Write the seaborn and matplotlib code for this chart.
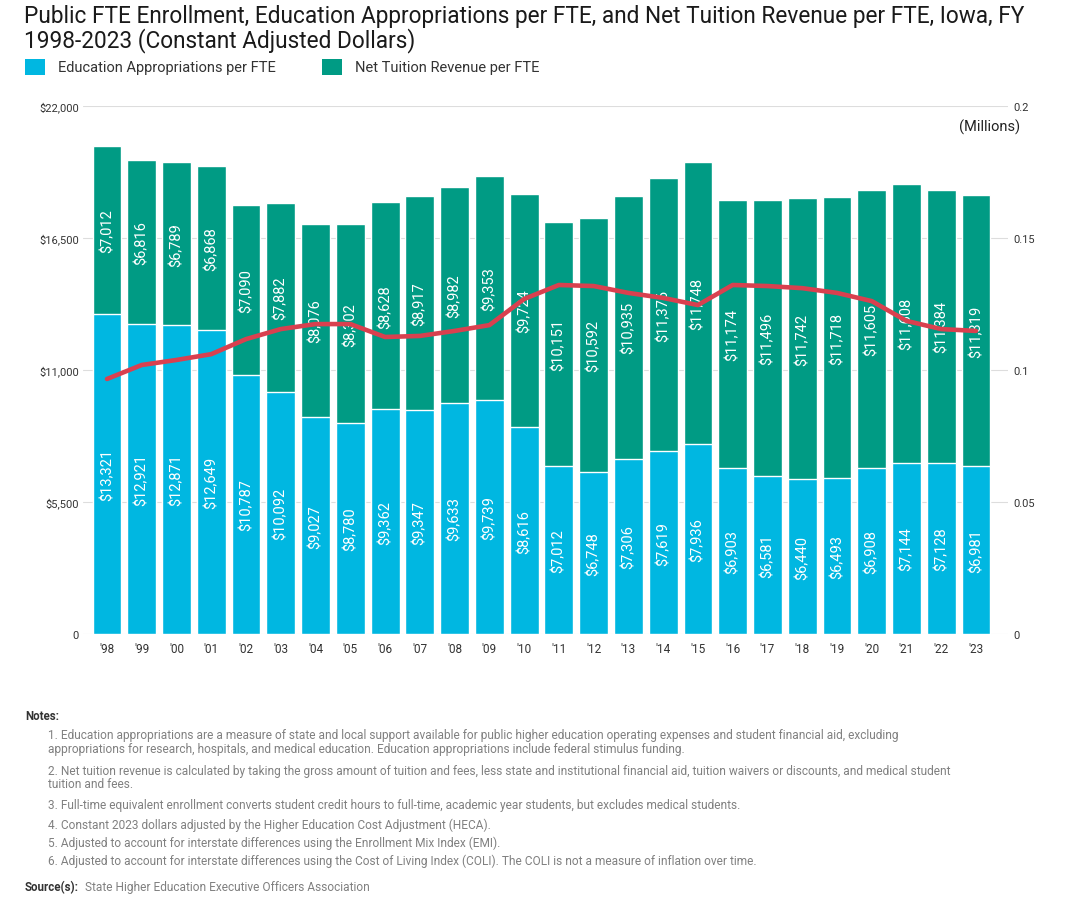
import matplotlib
matplotlib.use("Agg")
import matplotlib.pyplot as plt
import pandas as pd
import seaborn as sns
from matplotlib.patches import Rectangle

years = ["'98", "'99", "'00", "'01", "'02", "'03", "'04", "'05", "'06", "'07", "'08", "'09", "'10",
         "'11", "'12", "'13", "'14", "'15", "'16", "'17", "'18", "'19", "'20", "'21", "'22", "'23"]
approp = [13321, 12921, 12871, 12649, 10787, 10092, 9027, 8780, 9362, 9347, 9633, 9739, 8616,
          7012, 6748, 7306, 7619, 7936, 6903, 6581, 6440, 6493, 6908, 7144, 7128, 6981]
tuition = [7012, 6816, 6789, 6868, 7090, 7882, 8076, 8302, 8628, 8917, 8982, 9353, 9724,
           10151, 10592, 10935, 11376, 11748, 11174, 11496, 11742, 11718, 11605, 11608, 11384, 11319]
fte_millions = [0.0966, 0.1019, 0.1038, 0.1060, 0.1117, 0.1155, 0.1174, 0.1174, 0.1125, 0.1129,
                0.1148, 0.1170, 0.1269, 0.1322, 0.1318, 0.1292, 0.1273, 0.1246, 0.1322, 0.1318,
                0.1310, 0.1292, 0.1261, 0.1186, 0.1155, 0.1148]

left_ticks = [0, 5500, 11000, 16500, 22000]
left_labels = ["0", "$5,500", "$11,000", "$16,500", "$22,000"]
right_ticks = [0, 0.05, 0.1, 0.15, 0.2]
right_labels = ["0", "0.05", "0.1", "0.15", "0.2"]

notes = [
    "1. Education appropriations are a measure of state and local support available for public higher education operating expenses and student financial aid, excluding",
    "appropriations for research, hospitals, and medical education. Education appropriations include federal stimulus funding.",
    "2. Net tuition revenue is calculated by taking the gross amount of tuition and fees, less state and institutional financial aid, tuition waivers or discounts, and medical student",
    "tuition and fees.",
    "3. Full-time equivalent enrollment converts student credit hours to full-time, academic year students, but excludes medical students.",
    "4. Constant 2023 dollars adjusted by the Higher Education Cost Adjustment (HECA).",
    "5. Adjusted to account for interstate differences using the Enrollment Mix Index (EMI).",
    "6. Adjusted to account for interstate differences using the Cost of Living Index (COLI). The COLI is not a measure of inflation over time.",
]
note_y = [736, 750, 771, 785, 806, 825, 843, 861]

CYAN = "#00B7E1"
TEAL = "#009B84"
RED = "#D9404F"

df = pd.DataFrame({
    "Year": years,
    "Approp": approp,
    "Tuition": tuition,
    "FTE": fte_millions,
})
df["Total"] = df["Approp"] + df["Tuition"]
df["Pos"] = range(len(df))

sns.set_style("white")
plt.rcParams["font.family"] = ["Roboto", "DejaVu Sans"]

W, H = 1077, 912
fig = plt.figure(figsize=(W / 100, H / 100), dpi=100)
ax = fig.add_axes([83 / W, 1 - 635 / H, (1008 - 83) / W, (635 - 107) / H])

# stacked bars: total first (teal), appropriations on top of it (cyan)
sns.barplot(data=df, x="Year", y="Total", color=TEAL, width=0.83, saturation=1, ax=ax, zorder=2)
sns.barplot(data=df, x="Year", y="Approp", color=CYAN, width=0.83, saturation=1, ax=ax, zorder=3)

for i, row in df.iterrows():
    ax.text(i, row["Approp"] / 2, f"${row['Approp']:,}", rotation=90, ha="center", va="center",
            color="white", fontsize=10.5, zorder=4)
    ax.text(i, row["Approp"] + row["Tuition"] / 2, f"${row['Tuition']:,}", rotation=90,
            ha="center", va="center", color="white", fontsize=10.5, zorder=4)

ax.set_xlim(-0.69, 25.92)
ax.set_ylim(0, 22000)
ax.set_yticks(left_ticks)
ax.set_yticklabels(left_labels)
ax.set_xlabel("")
ax.set_ylabel("")
ax.grid(axis="y", color="#dddddd", linewidth=0.8, zorder=0)
ax.set_axisbelow(True)
for s in ax.spines.values():
    s.set_visible(False)
ax.tick_params(axis="y", length=0, pad=3, labelsize=8, labelcolor="#333333")
ax.tick_params(axis="x", length=0, pad=6, labelsize=8.5, labelcolor="#333333")

ax2 = ax.twinx()
sns.lineplot(data=df, x="Pos", y="FTE", color=RED, linewidth=3.3, ax=ax2,
             solid_joinstyle="round", solid_capstyle="round")
ax2.set_ylim(0, 0.2)
ax2.set_yticks(right_ticks)
ax2.set_yticklabels(right_labels)
ax2.set_ylabel("")
ax2.set_xlabel("")
for s in ax2.spines.values():
    s.set_visible(False)
ax2.tick_params(axis="y", length=0, pad=4, labelsize=8, labelcolor="#333333")
ax.set_xlim(-0.69, 25.92)
ax2.text(0.98, 0.962, "(Millions)", transform=ax.transAxes, ha="center", va="center",
         fontsize=10.5, color="#222222")

# title and legend
fig.text(24 / W, 1 - 5 / H, "Public FTE Enrollment, Education Appropriations per FTE, and Net Tuition Revenue per FTE, Iowa, FY\n1998-2023 (Constant Adjusted Dollars)",
         ha="left", va="top", fontsize=16.3, color="#1a1a1a", linespacing=1.0)
for x0, label, c in [(25, "Education Appropriations per FTE", CYAN), (322, "Net Tuition Revenue per FTE", TEAL)]:
    fig.patches.append(Rectangle((x0 / W, 1 - 76 / H), 20 / W, 16 / H, transform=fig.transFigure,
                                 facecolor=c, edgecolor="none"))
    fig.text((x0 + 33) / W, 1 - 68 / H, label, ha="left", va="center", fontsize=10.5, color="#333333")

# notes
fig.text(25 / W, 1 - 717 / H, "Notes:", ha="left", va="center", fontsize=8.3, fontweight="bold", color="#333333")
for t, y in zip(notes, note_y):
    fig.text(48 / W, 1 - y / H, t, ha="left", va="center", fontsize=8.6, color="#808080")
fig.text(25 / W, 1 - 888 / H, "Source(s):", ha="left", va="center", fontsize=8.3, fontweight="bold", color="#333333")
fig.text(85 / W, 1 - 888 / H, "State Higher Education Executive Officers Association", ha="left", va="center",
         fontsize=8.6, color="#808080")

fig.savefig("out.png", dpi=100)
